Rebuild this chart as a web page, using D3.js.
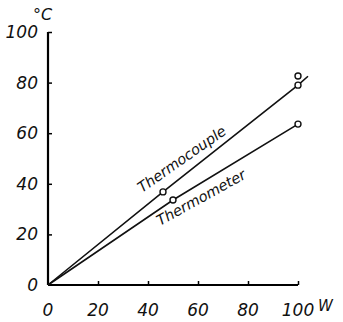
<!DOCTYPE html>
<html>
<head>
<meta charset="utf-8">
<script src="https://cdn.jsdelivr.net/npm/d3@7"></script>
<style>
  body { margin: 0; background: #fff; }
  text { font-family: "DejaVu Sans", sans-serif; font-style: italic; fill: #111; }
</style>
</head>
<body>
<script>
// data
const xTicks = [0, 20, 40, 60, 80, 100];
const yTicks = [0, 20, 40, 60, 80, 100];
const coupleX = [0, 46, 100, 104];
const coupleY = [0, 36.8, 79, 82.5];
const coupleMarkX = [46, 100, 100];
const coupleMarkY = [36.8, 79, 82.6];
const meterX = [0, 50, 100];
const meterY = [0, 33.6, 63.6];
const meterMarkX = [50, 100];
const meterMarkY = [33.6, 63.6];

const W = 343, H = 322;
const svg = d3.select("body").append("svg")
    .attr("width", W)
    .attr("height", H);

const x = d3.scaleLinear().domain([0, 100]).range([48, 298]);
const y = d3.scaleLinear().domain([0, 100]).range([285, 32]);

// axes
const xAxis = svg.append("g")
    .attr("transform", `translate(0,${y(0)})`)
    .call(d3.axisTop(x).tickValues(xTicks.slice(1)).tickSize(4).tickFormat(""));
xAxis.select(".domain").attr("d", `M${x(0)},0H${x(100)}`).attr("stroke-width", 2.2);
xAxis.selectAll(".tick line").attr("stroke-width", 1.5);

const yAxis = svg.append("g")
    .attr("transform", `translate(${x(0)},0)`)
    .call(d3.axisRight(y).tickValues(yTicks.slice(1)).tickSize(4).tickFormat(""));
yAxis.select(".domain").attr("d", `M0,${y(0)}V${y(100)}`).attr("stroke-width", 2.2);
yAxis.selectAll(".tick line").attr("stroke-width", 1.5);

// tick labels
svg.append("g").selectAll("text")
    .data(xTicks)
    .join("text")
    .attr("x", d => x(d))
    .attr("y", 316)
    .attr("text-anchor", "middle")
    .attr("font-size", 17)
    .text(d => d);

svg.append("text")
    .attr("x", 318).attr("y", 311)
    .attr("font-family", "DejaVu Serif")
    .attr("font-size", 15)
    .text("W");

svg.append("g").selectAll("text")
    .data(yTicks)
    .join("text")
    .attr("x", 38)
    .attr("y", d => y(d) + 6)
    .attr("text-anchor", "end")
    .attr("font-size", 17)
    .text(d => d);

svg.append("text")
    .attr("x", 33).attr("y", 20)
    .attr("font-size", 16)
    .text("°C");

// lines
const line = d3.line().x(d => x(d[0])).y(d => y(d[1]));

svg.append("path")
    .datum(d3.zip(coupleX, coupleY))
    .attr("d", line)
    .attr("fill", "none")
    .attr("stroke", "#111")
    .attr("stroke-width", 1.6);

svg.append("path")
    .datum(d3.zip(meterX, meterY))
    .attr("d", line)
    .attr("fill", "none")
    .attr("stroke", "#111")
    .attr("stroke-width", 1.6);

// markers
const marks = d3.zip(coupleMarkX, coupleMarkY).concat(d3.zip(meterMarkX, meterMarkY));
svg.append("g").selectAll("circle")
    .data(marks)
    .join("circle")
    .attr("cx", d => x(d[0]))
    .attr("cy", d => y(d[1]))
    .attr("r", 3)
    .attr("fill", "#fff")
    .attr("stroke", "#111")
    .attr("stroke-width", 1.4);

// line labels
svg.append("text")
    .attr("transform", "translate(142,193) rotate(-35)")
    .attr("font-size", 14.5)
    .text("Thermocouple");

svg.append("text")
    .attr("transform", "translate(160,226) rotate(-29)")
    .attr("font-size", 14.5)
    .text("Thermometer");
</script>
</body>
</html>
